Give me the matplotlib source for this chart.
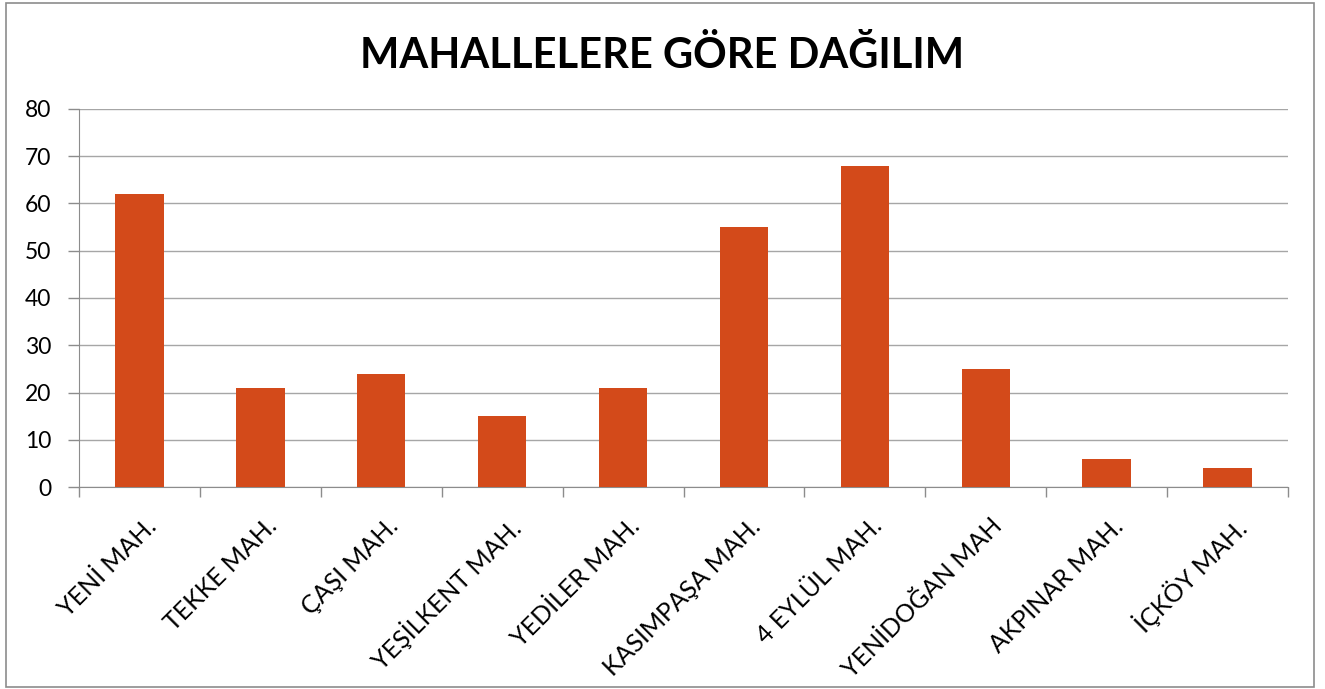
import matplotlib
matplotlib.use('Agg')
import matplotlib.pyplot as plt
from matplotlib.patches import Rectangle

# Veriler
mahalleler = ['YENİ MAH.', 'TEKKE MAH.', 'ÇAŞI MAH.', 'YEŞİLKENT MAH.', 'YEDİLER MAH.',
              'KASIMPAŞA MAH.', '4 EYLÜL MAH.', 'YENİDOĞAN MAH', 'AKPINAR MAH.', 'İÇKÖY MAH.']
degerler = [62, 21, 24, 15, 21, 55, 68, 25, 6, 4]
y_ticks = [0, 10, 20, 30, 40, 50, 60, 70, 80]

plt.rcParams['font.family'] = ['Lato', 'DejaVu Sans']

fig = plt.figure(figsize=(13.25, 6.89), dpi=100)
ax = fig.add_axes([79 / 1325, 1 - 487 / 689, (1288 - 79) / 1325, (487 - 109) / 689])

x = list(range(len(mahalleler)))
ax.bar(x, degerler, width=0.4, color='#D34A1A', zorder=3)

ax.set_xlim(-0.5, len(mahalleler) - 0.5)
ax.set_ylim(0, 80)
ax.set_yticks(y_ticks)
ax.set_yticklabels([str(v) for v in y_ticks], fontsize=16.5)
ax.yaxis.grid(True, color='#A6A6A6', linewidth=1, zorder=0)

# kategori sınırlarında tikler
ax.set_xticks([i - 0.5 for i in range(len(mahalleler) + 1)])
ax.set_xticklabels([])
ax.tick_params(axis='x', length=7, color='#8C8C8C', width=1)
ax.tick_params(axis='y', length=8, color='#8C8C8C', width=1, pad=12)

for i, lab in enumerate(mahalleler):
    ax.text(i + 0.04, -5.8, lab, rotation=45, ha='right', va='top', rotation_mode='anchor',
            fontsize=18, transform=ax.transData)

for s in ['top', 'right']:
    ax.spines[s].set_visible(False)
ax.spines['left'].set_color('#8C8C8C')
ax.spines['bottom'].set_color('#8C8C8C')

fig.text(0.5, 1 - 55 / 689, 'MAHALLELERE GÖRE DAĞILIM', ha='center', va='center',
         fontsize=30, fontweight='bold')

fig.patches.append(Rectangle((6 / 1325, 2 / 689), 1308 / 1325, 684 / 689,
                             transform=fig.transFigure, fill=False,
                             edgecolor='#8C8C8C', linewidth=1.2))

fig.savefig('out.png', dpi=100)
